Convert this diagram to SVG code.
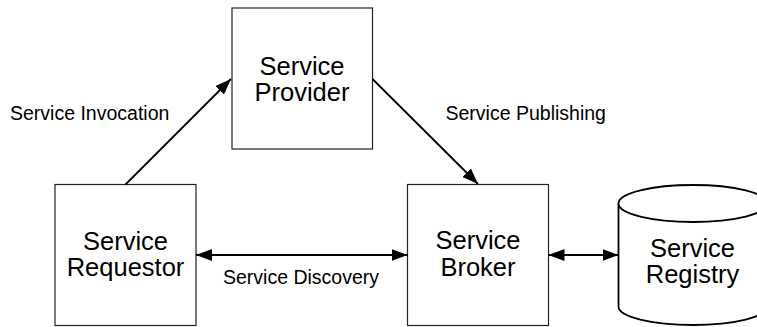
<svg xmlns="http://www.w3.org/2000/svg" width="757" height="327" viewBox="0 0 757 327">
<style>
.box{fill:#fff;stroke:#222;stroke-width:1.2}
.cyl{fill:#fff;stroke:#000;stroke-width:1.8}
.conn{stroke:#000;stroke-width:1.8;fill:none}
.big{font-family:"Liberation Sans",Arial,sans-serif;font-size:25.5px;fill:#000;text-anchor:middle}
.lbl{font-family:"Liberation Sans",Arial,sans-serif;font-size:19.5px;fill:#000}
</style>
<defs>
<marker id="ah" viewBox="0 0 16 12" refX="16" refY="6" markerWidth="16" markerHeight="12" markerUnits="userSpaceOnUse" orient="auto-start-reverse">
<path d="M0,0 L16,6 L0,12 Z" fill="#000"/>
</marker>
</defs>
<g id="provider">
<rect class="box" x="232" y="8" width="140.5" height="141"/>
<text class="big" x="302" y="75">Service</text>
<text class="big" x="302" y="101">Provider</text>
</g>
<g id="requestor">
<rect class="box" x="55" y="184.5" width="141" height="141"/>
<text class="big" x="125.5" y="250">Service</text>
<text class="big" x="125.5" y="276">Requestor</text>
</g>
<g id="broker">
<rect class="box" x="407.5" y="184.5" width="141" height="141"/>
<text class="big" x="478" y="249">Service</text>
<text class="big" x="478" y="276">Broker</text>
</g>
<g id="registry">
<path class="cyl" d="M618.5,203.5 A74.5,18.5 0 0 1 767.5,203.5 L767.5,306.5 A74.5,18.5 0 0 1 618.5,306.5 Z"/>
<path class="cyl" d="M618.5,203.5 A74.5,18.5 0 0 0 767.5,203.5"/>
<text class="big" x="692.5" y="257">Service</text>
<text class="big" x="692.5" y="283">Registry</text>
</g>
<g id="connectors">
<line class="conn" x1="125.5" y1="184.5" x2="231" y2="79" marker-end="url(#ah)"/>
<line class="conn" x1="372.5" y1="79" x2="478" y2="184" marker-end="url(#ah)"/>
<line class="conn" x1="196" y1="255" x2="407.5" y2="255" marker-start="url(#ah)" marker-end="url(#ah)"/>
<line class="conn" x1="548.5" y1="255" x2="618.5" y2="255" marker-start="url(#ah)" marker-end="url(#ah)"/>
</g>
<g id="labels">
<text class="lbl" x="10" y="120">Service Invocation</text>
<text class="lbl" x="445.5" y="120">Service Publishing</text>
<text class="lbl" x="223" y="284">Service Discovery</text>
</g>
</svg>
